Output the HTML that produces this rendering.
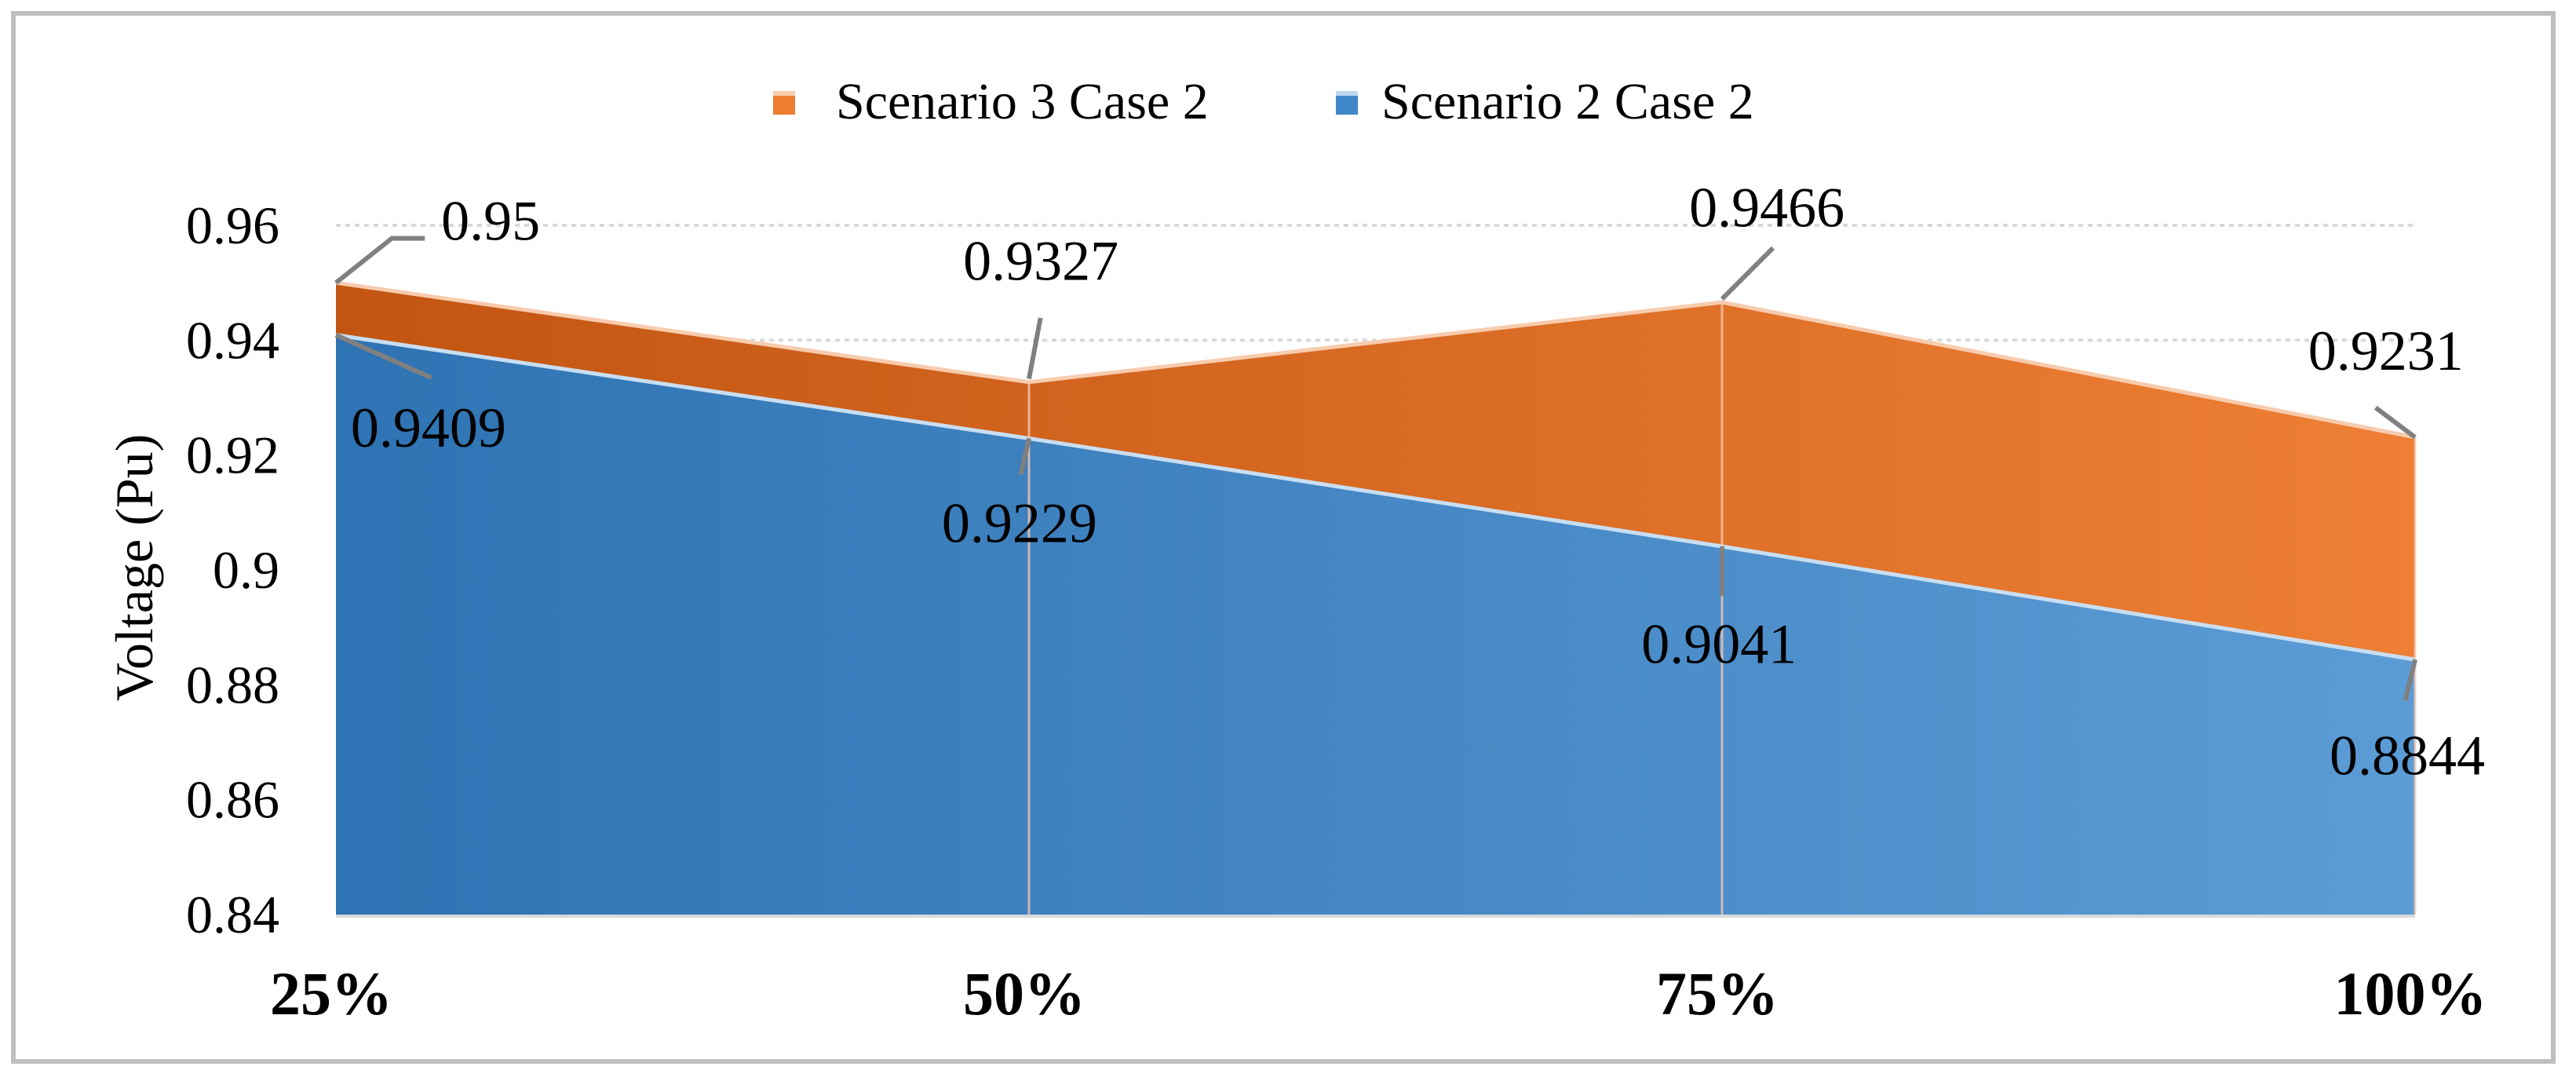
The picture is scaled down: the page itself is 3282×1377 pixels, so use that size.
<!DOCTYPE html>
<html><head><meta charset="utf-8"><style>
html,body{margin:0;padding:0;background:#fff;}
svg, svg text{font-family:"Liberation Serif","DejaVu Serif",serif;}
</style></head><body>
<svg id="chart" width="3282" height="1372" viewBox="0 0 3282 1372" xmlns="http://www.w3.org/2000/svg" font-family="Liberation Serif, serif">
<defs>
<linearGradient id="gOr" x1="0" x2="1" y1="0" y2="0"><stop offset="0" stop-color="#c25511"/><stop offset="1" stop-color="#ee7f35"/></linearGradient>
<linearGradient id="gBl" x1="0" x2="1" y1="0" y2="0"><stop offset="0" stop-color="#2e73b3"/><stop offset="1" stop-color="#5c9cd6"/></linearGradient>
</defs>
<rect x="17" y="17" width="3236" height="1335" fill="#fff" stroke="#bfbfbf" stroke-width="6"/>
<g id="legend">
<rect x="985" y="116" width="28" height="30" fill="#ed7d31"/>
<rect x="985" y="116" width="28" height="6" fill="#f8cbad"/>
<text x="1065" y="151" font-size="66" font-family="Liberation Serif, serif">Scenario 3 Case 2</text>
<rect x="1702" y="116" width="28" height="30" fill="#3f86c8"/>
<rect x="1702" y="116" width="28" height="6" fill="#bdd7ee"/>
<text x="1760" y="151" font-size="66" font-family="Liberation Serif, serif">Scenario 2 Case 2</text>
</g>
<g id="grid"></g>
<g id="areas"></g>
<g id="axes"></g>
<g id="labels"></g>
<text transform="translate(172,723) rotate(-90)" text-anchor="middle" font-size="68" dy="22" font-family="Liberation Serif, serif">Voltage (Pu)</text>
</svg>
<script>
const categories = ["25%", "50%", "75%", "100%"];
const scenario3 = [0.95, 0.9327, 0.9466, 0.9231];
const scenario2 = [0.9409, 0.9229, 0.9041, 0.8844];
const yTicks = [0.84, 0.86, 0.88, 0.9, 0.92, 0.94, 0.96];
const yTickLabels = ["0.84", "0.86", "0.88", "0.9", "0.92", "0.94", "0.96"];

const NS = "http://www.w3.org/2000/svg";
const FONT = "Liberation Serif, serif";
const X0 = 428, X1 = 3077, Y0 = 1165, Y1 = 287, YMIN = 0.84, YMAX = 0.96;
function xs(i){ return X0 + (X1 - X0) * i / (categories.length - 1); }
function ys(v){ return Y0 - (v - YMIN) / (YMAX - YMIN) * (Y0 - Y1); }
function mk(tag, attrs, parent){ const e = document.createElementNS(NS, tag); for (const k in attrs) e.setAttribute(k, attrs[k]); parent.appendChild(e); return e; }

const grid = document.getElementById('grid');
const axes = document.getElementById('axes');
const areas = document.getElementById('areas');
const labels = document.getElementById('labels');

yTicks.forEach((t, i) => {
  const g = mk('line', {x1: X0, x2: X1, y1: ys(t), y2: ys(t), stroke: '#d9d9d9', 'stroke-width': 4, 'stroke-dasharray': '6 6'}, grid);
  
  
  const tl = mk('text', {x: 356, y: ys(t) + 23, 'text-anchor': 'end', 'font-size': 68, 'font-family': FONT}, axes);
  tl.textContent = yTickLabels[i];
  
  
});

function areaPath(vals){
  let d = 'M' + xs(0) + ',' + Y0;
  vals.forEach((v, i) => { d += ' L' + xs(i) + ',' + ys(v); });
  d += ' L' + xs(vals.length - 1) + ',' + Y0 + ' Z';
  return d;
}
function linePath(vals){ return vals.map((v, i) => (i ? 'L' : 'M') + xs(i) + ',' + ys(v)).join(' '); }

const a3 = mk('path', {d: areaPath(scenario3), fill: 'url(#gOr)'}, areas);


const l3 = mk('path', {d: linePath(scenario3), fill: 'none', stroke: '#f8cbad', 'stroke-width': 5}, areas);


const a2 = mk('path', {d: areaPath(scenario2), fill: 'url(#gBl)'}, areas);


const l2 = mk('path', {d: linePath(scenario2), fill: 'none', stroke: '#c9def2', 'stroke-width': 5}, areas);


for (let i = 1; i < categories.length; i++) {
  const dl = mk('line', {x1: xs(i), x2: xs(i), y1: ys(scenario3[i]), y2: Y0, stroke: '#f3c7b0', 'stroke-width': 3, opacity: 0.8}, areas);
  
  
}
const ax = mk('line', {x1: X0, x2: X1, y1: Y0 + 2, y2: Y0 + 2, stroke: '#d9d9d9', 'stroke-width': 4}, axes);



categories.forEach((c, i) => {
  const t = mk('text', {x: xs(i) - 6, y: 1292, 'text-anchor': 'middle', 'font-size': 78, 'font-weight': 'bold', 'font-family': FONT}, axes);
  t.textContent = c;
  
  
});

const S = 2.096;
const off3 = [ {lead:[[0,0],[34,-27],[54,-27]], tx:64, ty:-38},
               {lead:[[0,-2],[7,-39]], tx:-40, ty:-74},
               {lead:[[0,-2],[31,-33]], tx:-20, ty:-58},
               {lead:[[0,0],[-24,-18]], tx:-65, ty:-53} ];
const off2 = [ {lead:[[0,0],[58,26]], tx:9, ty:56},
               {lead:[[0,0],[-5,22]], tx:-53, ty:51},
               {lead:[[0,0],[0,30]], tx:-49, ty:59},
               {lead:[[0,0],[-6,25]], tx:-52, ty:58} ];
function addLabel(vals, offs, i, name){
  const px = xs(i), py = ys(vals[i]), o = offs[i];
  const pts = o.lead.map(p => (px + p[0] * S) + ',' + (py + p[1] * S)).join(' ');
  const ld = mk('polyline', {points: pts, fill: 'none', stroke: '#808080', 'stroke-width': 6}, labels);
  
  
  const t = mk('text', {x: px + o.tx * S, y: py + o.ty * S + 25, 'font-size': 72, 'font-family': FONT}, labels);
  t.textContent = String(vals[i]);
  
  
}
for (let i = 0; i < categories.length; i++) {
  addLabel(scenario3, off3, i, 'data-label-scenario-3');
  addLabel(scenario2, off2, i, 'data-label-scenario-2');
}
</script>
</body></html>
